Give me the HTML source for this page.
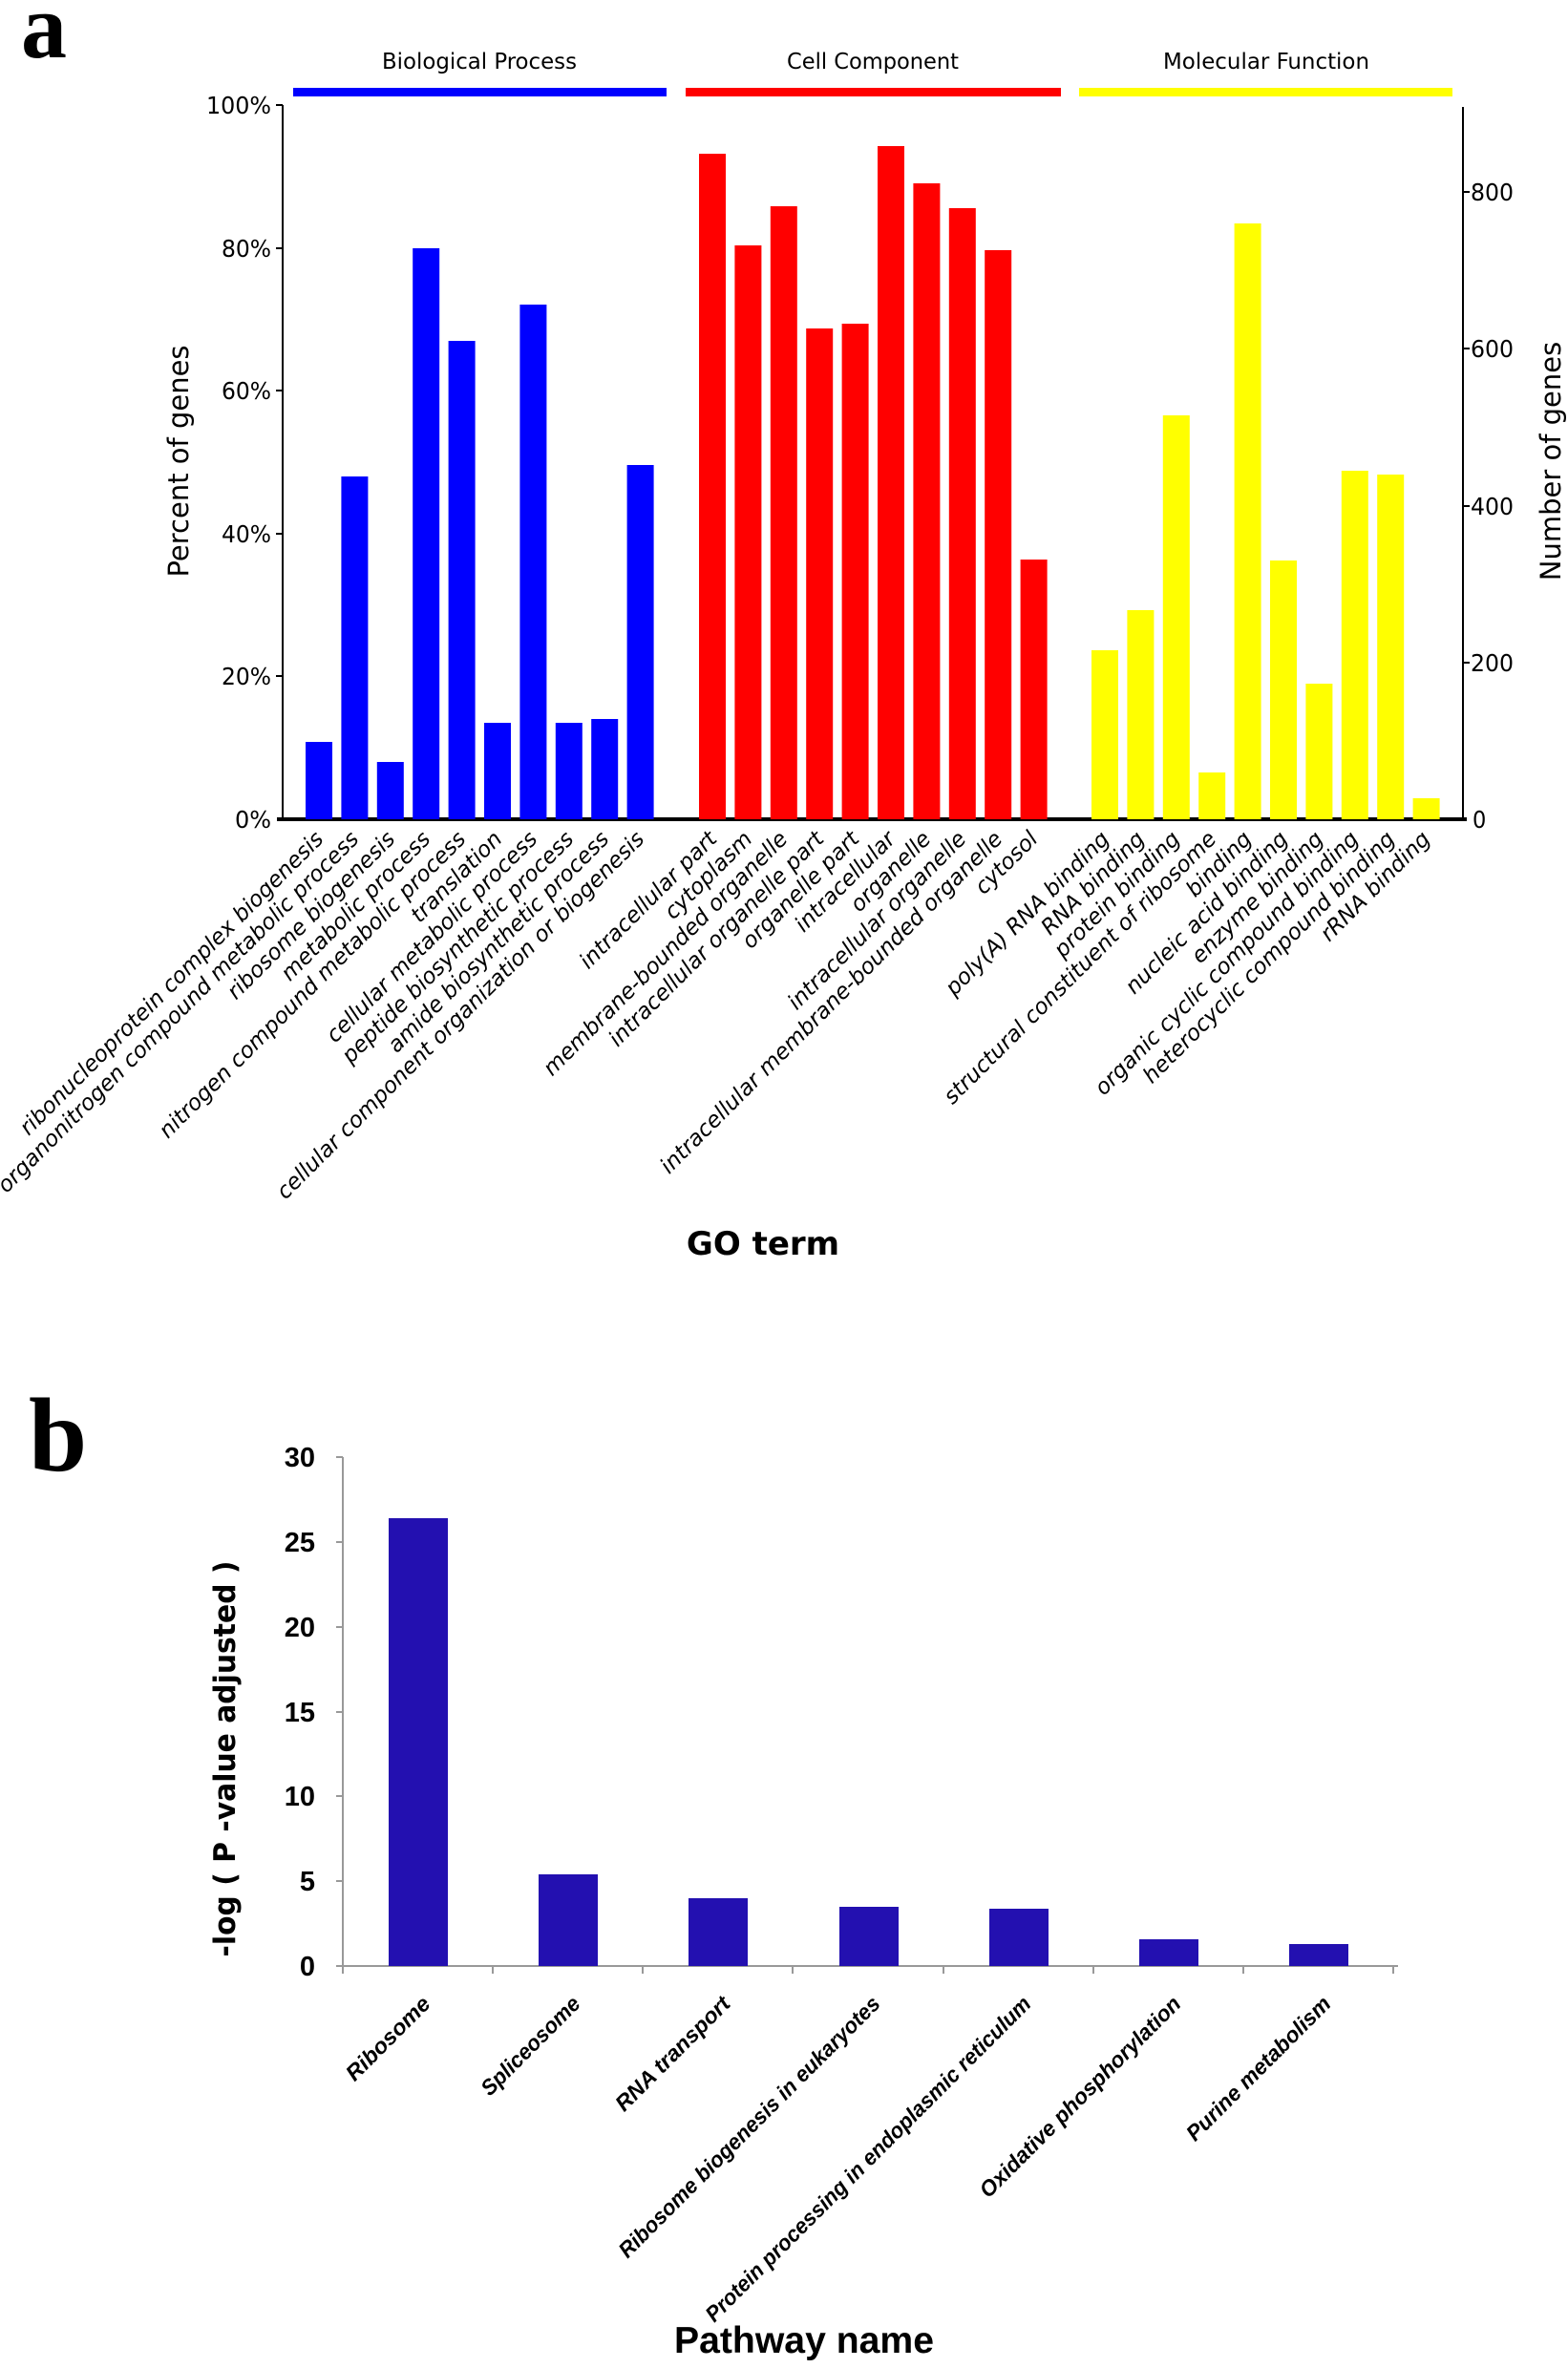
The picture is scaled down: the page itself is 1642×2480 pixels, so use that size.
<!DOCTYPE html>
<html><head><meta charset="utf-8"><style>
html,body{margin:0;padding:0;background:#fff;}
svg{display:block;}
</style></head><body>
<svg width="1642" height="2480" viewBox="0 0 1642 2480" xmlns="http://www.w3.org/2000/svg">
<rect width="1642" height="2480" fill="#fff"/>
<text x="22" y="60" font-family="Liberation Serif, serif" font-weight="bold" font-size="96">a</text>
<g font-family="DejaVu Sans Condensed, DejaVu Sans, sans-serif" font-size="23" text-anchor="middle">
<text x="502" y="72" textLength="204" lengthAdjust="spacingAndGlyphs">Biological Process</text>
<text x="914" y="72" textLength="180" lengthAdjust="spacingAndGlyphs">Cell Component</text>
<text x="1326" y="72" textLength="216" lengthAdjust="spacingAndGlyphs">Molecular Function</text>
</g>
<rect x="307" y="92" width="391" height="9" fill="#0000ff"/>
<rect x="718" y="92" width="393" height="9" fill="#ff0000"/>
<rect x="1130" y="92" width="391" height="9" fill="#ffff00"/>
<line x1="296" y1="110" x2="296" y2="858" stroke="#000" stroke-width="2"/>
<line x1="1532" y1="112" x2="1532" y2="858" stroke="#000" stroke-width="2"/>
<line x1="290" y1="858" x2="1536" y2="858" stroke="#000" stroke-width="4"/>
<g stroke="#000" stroke-width="2">
<line x1="289" y1="110" x2="296" y2="110"/><line x1="289" y1="260" x2="296" y2="260"/><line x1="289" y1="409" x2="296" y2="409"/><line x1="289" y1="559" x2="296" y2="559"/><line x1="289" y1="708" x2="296" y2="708"/>
<line x1="1532" y1="201" x2="1539" y2="201"/><line x1="1532" y1="365" x2="1539" y2="365"/><line x1="1532" y1="530" x2="1539" y2="530"/><line x1="1532" y1="694" x2="1539" y2="694"/>
</g>
<g font-family="DejaVu Sans Condensed, DejaVu Sans, sans-serif" font-size="25" text-anchor="end">
<text x="284" y="119" textLength="68" lengthAdjust="spacingAndGlyphs">100%</text><text x="284" y="269" textLength="52" lengthAdjust="spacingAndGlyphs">80%</text><text x="284" y="418" textLength="52" lengthAdjust="spacingAndGlyphs">60%</text><text x="284" y="568" textLength="52" lengthAdjust="spacingAndGlyphs">40%</text><text x="284" y="717" textLength="52" lengthAdjust="spacingAndGlyphs">20%</text><text x="284" y="867" textLength="38" lengthAdjust="spacingAndGlyphs">0%</text>
</g>
<g font-family="DejaVu Sans Condensed, DejaVu Sans, sans-serif" font-size="25">
<text x="1540" y="210" textLength="45" lengthAdjust="spacingAndGlyphs">800</text><text x="1540" y="374" textLength="45" lengthAdjust="spacingAndGlyphs">600</text><text x="1540" y="539" textLength="45" lengthAdjust="spacingAndGlyphs">400</text><text x="1540" y="703" textLength="45" lengthAdjust="spacingAndGlyphs">200</text><text x="1542" y="867">0</text>
</g>
<text transform="translate(197,483) rotate(-90)" text-anchor="middle" font-family="DejaVu Sans, sans-serif" font-size="29">Percent of genes</text>
<text transform="translate(1634,483) rotate(-90)" text-anchor="middle" font-family="DejaVu Sans, sans-serif" font-size="29">Number of genes</text>
<g fill="#0000ff">
<rect x="320" y="777" width="28" height="81"/>
<rect x="357.4" y="499" width="28" height="359"/>
<rect x="394.8" y="798" width="28" height="60"/>
<rect x="432.2" y="260" width="28" height="598"/>
<rect x="469.6" y="357" width="28" height="501"/>
<rect x="507" y="757" width="28" height="101"/>
<rect x="544.4" y="319" width="28" height="539"/>
<rect x="581.8" y="757" width="28" height="101"/>
<rect x="619.2" y="753" width="28" height="105"/>
<rect x="656.6" y="487" width="28" height="371"/>
</g>
<g fill="#ff0000">
<rect x="732" y="161" width="28" height="697"/>
<rect x="769.4" y="257" width="28" height="601"/>
<rect x="806.8" y="216" width="28" height="642"/>
<rect x="844.2" y="344" width="28" height="514"/>
<rect x="881.6" y="339" width="28" height="519"/>
<rect x="919" y="153" width="28" height="705"/>
<rect x="956.4" y="192" width="28" height="666"/>
<rect x="993.8" y="218" width="28" height="640"/>
<rect x="1031.2" y="262" width="28" height="596"/>
<rect x="1068.6" y="586" width="28" height="272"/>
</g>
<g fill="#ffff00">
<rect x="1143" y="681" width="28" height="177"/>
<rect x="1180.4" y="639" width="28" height="219"/>
<rect x="1217.8" y="435" width="28" height="423"/>
<rect x="1255.2" y="809" width="28" height="49"/>
<rect x="1292.6" y="234" width="28" height="624"/>
<rect x="1330" y="587" width="28" height="271"/>
<rect x="1367.4" y="716" width="28" height="142"/>
<rect x="1404.8" y="493" width="28" height="365"/>
<rect x="1442.2" y="497" width="28" height="361"/>
<rect x="1479.6" y="836" width="28" height="22"/>
</g>
<g font-family="DejaVu Sans, sans-serif" font-style="oblique" font-size="23" text-anchor="end">
<text transform="translate(340,880) rotate(-45)">ribonucleoprotein complex biogenesis</text>
<text transform="translate(377,880) rotate(-45)">organonitrogen compound metabolic process</text>
<text transform="translate(415,880) rotate(-45)">ribosome biogenesis</text>
<text transform="translate(452,880) rotate(-45)">metabolic process</text>
<text transform="translate(489,880) rotate(-45)">nitrogen compound metabolic process</text>
<text transform="translate(527,880) rotate(-45)">translation</text>
<text transform="translate(564,880) rotate(-45)">cellular metabolic process</text>
<text transform="translate(602,880) rotate(-45)">peptide biosynthetic process</text>
<text transform="translate(639,880) rotate(-45)">amide biosynthetic process</text>
<text transform="translate(676,880) rotate(-45)">cellular component organization or biogenesis</text>
<text transform="translate(752,880) rotate(-45)">intracellular part</text>
<text transform="translate(789,880) rotate(-45)">cytoplasm</text>
<text transform="translate(826,880) rotate(-45)">membrane-bounded organelle</text>
<text transform="translate(864,880) rotate(-45)">intracellular organelle part</text>
<text transform="translate(901,880) rotate(-45)">organelle part</text>
<text transform="translate(939,880) rotate(-45)">intracellular</text>
<text transform="translate(976,880) rotate(-45)">organelle</text>
<text transform="translate(1013,880) rotate(-45)">intracellular organelle</text>
<text transform="translate(1051,880) rotate(-45)">intracellular membrane-bounded organelle</text>
<text transform="translate(1088,880) rotate(-45)">cytosol</text>
<text transform="translate(1163,880) rotate(-45)">poly(A) RNA binding</text>
<text transform="translate(1200,880) rotate(-45)">RNA binding</text>
<text transform="translate(1237,880) rotate(-45)">protein binding</text>
<text transform="translate(1275,880) rotate(-45)">structural constituent of ribosome</text>
<text transform="translate(1312,880) rotate(-45)">binding</text>
<text transform="translate(1350,880) rotate(-45)">nucleic acid binding</text>
<text transform="translate(1387,880) rotate(-45)">enzyme binding</text>
<text transform="translate(1424,880) rotate(-45)">organic cyclic compound binding</text>
<text transform="translate(1462,880) rotate(-45)">heterocyclic compound binding</text>
<text transform="translate(1499,880) rotate(-45)">rRNA binding</text>
</g>
<text x="799" y="1314" text-anchor="middle" font-family="DejaVu Sans, sans-serif" font-weight="bold" font-size="34">GO term</text>

<text x="30" y="1540" font-family="Liberation Serif, serif" font-weight="bold" font-size="110">b</text>
<line x1="359" y1="1526" x2="359" y2="2060" stroke="#999" stroke-width="2"/>
<line x1="352" y1="2059" x2="1464" y2="2059" stroke="#999" stroke-width="2"/>
<g stroke="#999" stroke-width="2">
<line x1="352" y1="1526" x2="359" y2="1526"/><line x1="352" y1="1615" x2="359" y2="1615"/><line x1="352" y1="1704" x2="359" y2="1704"/><line x1="352" y1="1793" x2="359" y2="1793"/><line x1="352" y1="1881" x2="359" y2="1881"/><line x1="352" y1="1970" x2="359" y2="1970"/>
<line x1="359" y1="2059" x2="359" y2="2067"/><line x1="516" y1="2059" x2="516" y2="2067"/><line x1="673" y1="2059" x2="673" y2="2067"/><line x1="830" y1="2059" x2="830" y2="2067"/><line x1="988" y1="2059" x2="988" y2="2067"/><line x1="1145" y1="2059" x2="1145" y2="2067"/><line x1="1302" y1="2059" x2="1302" y2="2067"/><line x1="1459" y1="2059" x2="1459" y2="2067"/>
</g>
<g font-family="Liberation Sans Narrow, Liberation Sans, sans-serif" font-weight="bold" font-size="29" text-anchor="end">
<text x="330" y="1536">30</text><text x="330" y="1625">25</text><text x="330" y="1714">20</text><text x="330" y="1803">15</text><text x="330" y="1891">10</text><text x="330" y="1980">5</text><text x="330" y="2069">0</text>
</g>
<g fill="#2310b0">
<rect x="407" y="1590" width="62" height="469"/>
<rect x="564" y="1963" width="62" height="96"/>
<rect x="721" y="1988" width="62" height="71"/>
<rect x="879" y="1997" width="62" height="62"/>
<rect x="1036" y="1999" width="62" height="60"/>
<rect x="1193" y="2031" width="62" height="28"/>
<rect x="1350" y="2036" width="62" height="23"/>
</g>
<text transform="translate(246,1842) rotate(-90)" text-anchor="middle" font-family="DejaVu Sans, sans-serif" font-weight="bold" font-size="31" textLength="415" lengthAdjust="spacingAndGlyphs">-log ( P -value adjusted )</text>
<g font-family="Liberation Sans, sans-serif" font-weight="bold" font-style="italic" font-size="23" text-anchor="end">
<text transform="translate(452,2100) rotate(-45)" textLength="114" lengthAdjust="spacingAndGlyphs">Ribosome</text>
<text transform="translate(609,2100) rotate(-45)" textLength="136" lengthAdjust="spacingAndGlyphs">Spliceosome</text>
<text transform="translate(766,2100) rotate(-45)" textLength="159" lengthAdjust="spacingAndGlyphs">RNA transport</text>
<text transform="translate(923,2100) rotate(-45)" textLength="376" lengthAdjust="spacingAndGlyphs">Ribosome biogenesis in eukaryotes</text>
<text transform="translate(1081,2100) rotate(-45)" textLength="471" lengthAdjust="spacingAndGlyphs">Protein processing in endoplasmic reticulum</text>
<text transform="translate(1238,2100) rotate(-45)" textLength="287" lengthAdjust="spacingAndGlyphs">Oxidative phosphorylation</text>
<text transform="translate(1395,2100) rotate(-45)" textLength="203" lengthAdjust="spacingAndGlyphs">Purine metabolism</text>
</g>
<text x="842" y="2464" text-anchor="middle" font-family="Liberation Sans Narrow, Liberation Sans, sans-serif" font-weight="bold" font-size="39" textLength="272" lengthAdjust="spacingAndGlyphs">Pathway  name</text>
</svg>
</body></html>
